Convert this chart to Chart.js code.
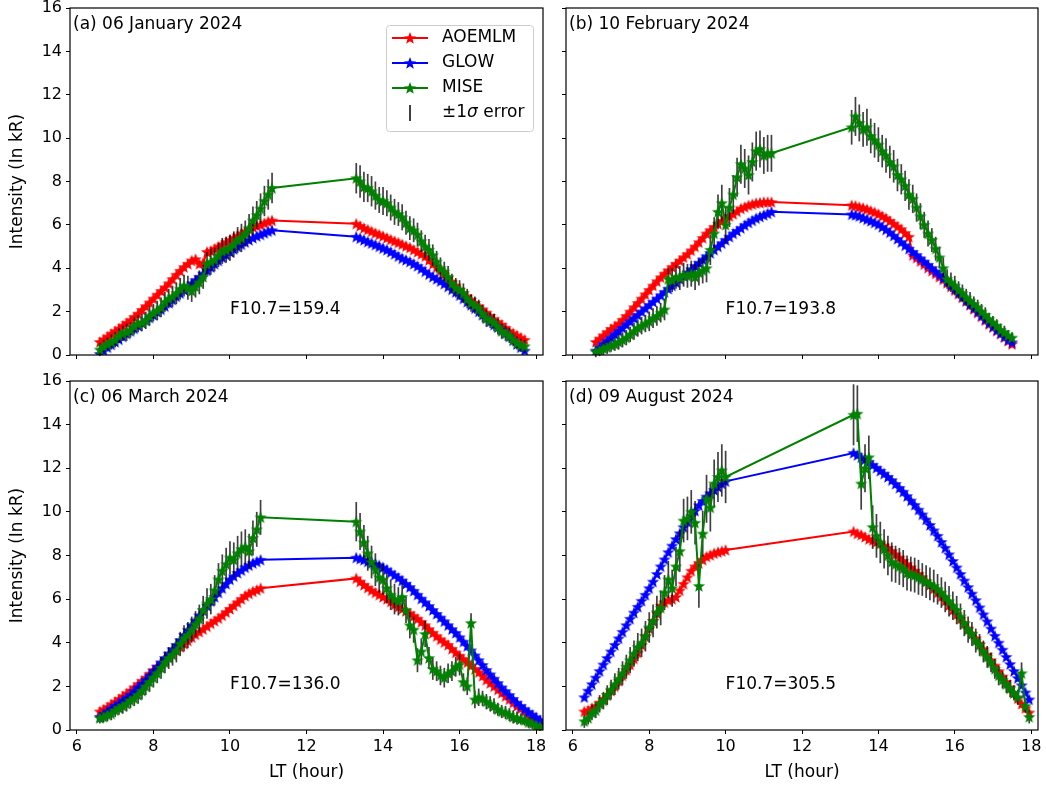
<!DOCTYPE html>
<html>
<head>
<meta charset="utf-8">
<script src="https://cdn.jsdelivr.net/npm/chart.js@4.4.1/dist/chart.umd.min.js"></script>
<style>
  body { margin: 0; background: #fff; }
  #wrap { position: relative; width: 1046px; height: 788px; }
  #wrap canvas { position: absolute; }
</style>
</head>
<body>
<div id="wrap">
  <canvas id="pa" width="556" height="370" style="left:0;top:0"></canvas>
  <canvas id="pb" width="490" height="370" style="left:556px;top:0"></canvas>
  <canvas id="pc" width="556" height="418" style="left:0;top:370px"></canvas>
  <canvas id="pd" width="490" height="418" style="left:556px;top:370px"></canvas>
</div>
<script>
const xTicks = [6, 8, 10, 12, 14, 16, 18];
const yTicks = [0, 2, 4, 6, 8, 10, 12, 14, 16];
const seriesNames = ['AOEMLM', 'GLOW', 'MISE'];
const seriesColors = ['#ff0000', '#0000ff', '#008000'];
const panelTitles = ['(a) 06 January 2024', '(b) 10 February 2024', '(c) 06 March 2024', '(d) 09 August 2024'];
const fluxLabels = ['F10.7=159.4', 'F10.7=193.8', 'F10.7=136.0', 'F10.7=305.5'];

// (a) 06 January 2024 - local time (hour) / intensity (kR)
const tA = [6.6, 6.7, 6.8, 6.9, 7.0, 7.1, 7.2, 7.3, 7.4, 7.5, 7.6, 7.7, 7.8, 7.9, 8.0, 8.1, 8.2, 8.3, 8.4, 8.5, 8.6, 8.7, 8.8, 8.9, 9.0, 9.1, 9.2, 9.3, 9.4, 9.5, 9.6, 9.7, 9.8, 9.9, 10.0, 10.1, 10.2, 10.3, 10.4, 10.5, 10.6, 10.7, 10.8, 10.9, 11.0, 11.1,
  13.3, 13.4, 13.5, 13.6, 13.7, 13.8, 13.9, 14.0, 14.1, 14.2, 14.3, 14.4, 14.5, 14.6, 14.7, 14.8, 14.9, 15.0, 15.1, 15.2, 15.3, 15.4, 15.5, 15.6, 15.7, 15.8, 15.9, 16.0, 16.1, 16.2, 16.3, 16.4, 16.5, 16.6, 16.7, 16.8, 16.9, 17.0, 17.1, 17.2, 17.3, 17.4, 17.5, 17.6, 17.7];
const aoemlmA = [0.6, 0.72, 0.85, 0.98, 1.1, 1.22, 1.35, 1.48, 1.6, 1.75, 1.9, 2.08, 2.25, 2.42, 2.6, 2.78, 2.95, 3.12, 3.3, 3.5, 3.7, 3.88, 4.05, 4.2, 4.35, 4.42, 4.2, 4.25, 4.75, 4.8, 4.9, 5.0, 5.1, 5.2, 5.3, 5.4, 5.5, 5.6, 5.7, 5.8, 5.9, 5.95, 6.0, 6.08, 6.15, 6.2,
  6.05, 5.95, 5.85, 5.78, 5.7, 5.62, 5.55, 5.48, 5.4, 5.32, 5.25, 5.18, 5.1, 5.02, 4.95, 4.85, 4.75, 4.65, 4.55, 4.38, 4.2, 4.05, 3.9, 3.72, 3.55, 3.38, 3.2, 3.02, 2.85, 2.7, 2.55, 2.4, 2.25, 2.1, 1.95, 1.8, 1.65, 1.52, 1.4, 1.25, 1.1, 1.0, 0.9, 0.8, 0.7];
const glowA = [0.05, 0.2, 0.35, 0.48, 0.6, 0.72, 0.85, 0.98, 1.1, 1.22, 1.35, 1.48, 1.6, 1.72, 1.85, 1.98, 2.1, 2.25, 2.4, 2.55, 2.7, 2.85, 3.0, 3.15, 3.3, 3.45, 3.6, 3.75, 3.9, 4.05, 4.2, 4.35, 4.5, 4.62, 4.75, 4.88, 5.0, 5.1, 5.2, 5.3, 5.4, 5.48, 5.55, 5.62, 5.7, 5.75,
  5.45, 5.38, 5.3, 5.22, 5.15, 5.08, 5.0, 4.92, 4.85, 4.75, 4.65, 4.55, 4.45, 4.38, 4.3, 4.2, 4.1, 3.98, 3.85, 3.72, 3.6, 3.5, 3.4, 3.28, 3.15, 3.02, 2.9, 2.75, 2.6, 2.45, 2.3, 2.15, 2.0, 1.85, 1.7, 1.55, 1.4, 1.28, 1.15, 1.0, 0.85, 0.68, 0.5, 0.35, 0.2];
const miseA = [0.25, 0.4, 0.5, 0.6, 0.7, 0.9, 1.0, 1.05, 1.15, 1.35, 1.45, 1.5, 1.6, 1.8, 1.95, 2.05, 2.2, 2.45, 2.6, 2.7, 2.85, 3.05, 3.2, 3.1, 2.95, 3.15, 3.35, 3.6, 4.2, 4.3, 4.4, 4.6, 4.8, 4.85, 4.95, 5.1, 5.3, 5.4, 5.6, 5.85, 6.2, 6.45, 6.75, 7.1, 7.4, 7.7,
  8.15, 8.0, 7.75, 7.7, 7.55, 7.35, 7.15, 7.1, 7.0, 6.8, 6.6, 6.5, 6.35, 6.1, 5.85, 5.75, 5.55, 5.25, 5.0, 4.85, 4.6, 4.3, 4.0, 3.85, 3.6, 3.3, 3.1, 3.0, 2.85, 2.6, 2.4, 2.3, 2.15, 1.9, 1.7, 1.6, 1.5, 1.3, 1.1, 1.0, 0.9, 0.7, 0.55, 0.45, 0.4];
const errA = [0.3, 0.3, 0.3, 0.35, 0.35, 0.35, 0.35, 0.4, 0.35, 0.4, 0.4, 0.4, 0.4, 0.45, 0.4, 0.45, 0.45, 0.45, 0.45, 0.5, 0.5, 0.5, 0.5, 0.55, 0.5, 0.5, 0.55, 0.55, 0.55, 0.6, 0.55, 0.55, 0.6, 0.6, 0.6, 0.6, 0.6, 0.65, 0.6, 0.65, 0.65, 0.65, 0.7, 0.7, 0.7, 0.7,
  0.7, 0.75, 0.7, 0.65, 0.7, 0.65, 0.6, 0.65, 0.6, 0.6, 0.6, 0.55, 0.6, 0.55, 0.55, 0.55, 0.55, 0.5, 0.55, 0.5, 0.5, 0.5, 0.5, 0.45, 0.5, 0.45, 0.45, 0.45, 0.45, 0.45, 0.4, 0.4, 0.4, 0.4, 0.4, 0.35, 0.4, 0.35, 0.35, 0.35, 0.35, 0.3, 0.3, 0.3, 0.3];

// (b) 10 February 2024
const tB = [6.6, 6.7, 6.8, 6.9, 7.0, 7.1, 7.2, 7.3, 7.4, 7.5, 7.6, 7.7, 7.8, 7.9, 8.0, 8.1, 8.2, 8.3, 8.4, 8.5, 8.6, 8.7, 8.8, 8.9, 9.0, 9.1, 9.2, 9.3, 9.4, 9.5, 9.6, 9.7, 9.8, 9.9, 10.0, 10.1, 10.2, 10.3, 10.4, 10.5, 10.6, 10.7, 10.8, 10.9, 11.0, 11.1, 11.2,
  13.3, 13.4, 13.5, 13.6, 13.7, 13.8, 13.9, 14.0, 14.1, 14.2, 14.3, 14.4, 14.5, 14.6, 14.7, 14.8, 14.9, 15.0, 15.1, 15.2, 15.3, 15.4, 15.5, 15.6, 15.7, 15.8, 15.9, 16.0, 16.1, 16.2, 16.3, 16.4, 16.5, 16.6, 16.7, 16.8, 16.9, 17.0, 17.1, 17.2, 17.3, 17.4, 17.5];
const aoemlmB = [0.6, 0.75, 0.9, 1.05, 1.2, 1.32, 1.45, 1.62, 1.8, 2.0, 2.2, 2.4, 2.6, 2.8, 3.0, 3.2, 3.4, 3.58, 3.75, 3.9, 4.05, 4.2, 4.35, 4.5, 4.65, 4.82, 5.0, 5.2, 5.4, 5.6, 5.75, 5.9, 6.05, 6.18, 6.3, 6.4, 6.5, 6.62, 6.75, 6.82, 6.9, 6.95, 7.0, 7.02, 7.05, 7.05, 7.05,
  6.9, 6.88, 6.82, 6.78, 6.72, 6.65, 6.58, 6.5, 6.4, 6.3, 6.18, 6.05, 5.92, 5.8, 5.62, 5.45, 4.6, 4.48, 4.32, 4.18, 4.02, 3.88, 3.75, 3.6, 3.48, 3.32, 3.15, 2.98, 2.82, 2.65, 2.48, 2.3, 2.12, 1.95, 1.78, 1.6, 1.42, 1.28, 1.12, 0.98, 0.82, 0.65, 0.5];
const glowB = [0.2, 0.35, 0.5, 0.65, 0.8, 0.95, 1.1, 1.25, 1.4, 1.55, 1.7, 1.85, 2.0, 2.15, 2.3, 2.45, 2.6, 2.75, 2.9, 3.05, 3.2, 3.35, 3.5, 3.65, 3.8, 3.95, 4.1, 4.25, 4.4, 4.55, 4.7, 4.85, 5.0, 5.15, 5.3, 5.45, 5.6, 5.72, 5.85, 5.98, 6.1, 6.2, 6.3, 6.38, 6.45, 6.52, 6.6,
  6.48, 6.45, 6.4, 6.32, 6.25, 6.18, 6.1, 6.02, 5.9, 5.78, 5.65, 5.5, 5.35, 5.2, 5.05, 4.9, 4.75, 4.6, 4.45, 4.3, 4.15, 4.0, 3.85, 3.7, 3.55, 3.4, 3.22, 3.05, 2.88, 2.7, 2.52, 2.35, 2.18, 2.0, 1.82, 1.65, 1.48, 1.32, 1.15, 1.0, 0.85, 0.7, 0.58];
const miseB = [0.15, 0.2, 0.3, 0.35, 0.45, 0.5, 0.6, 0.7, 0.8, 0.95, 1.1, 1.25, 1.35, 1.45, 1.55, 1.7, 1.8, 1.95, 2.1, 3.5, 3.45, 3.6, 3.55, 3.7, 3.65, 3.75, 3.6, 3.8, 3.9, 4.0, 4.85, 5.6, 6.6, 7.0, 6.0, 6.8, 7.4, 8.2, 8.8, 8.6, 8.3, 8.9, 9.4, 9.5, 9.2, 9.3, 9.3,
  10.5, 11.0, 10.7, 10.4, 10.5, 10.1, 9.9, 9.7, 9.4, 9.2, 8.9, 8.7, 8.3, 8.1, 7.8, 7.4, 7.2, 6.8, 6.4, 6.0, 5.6, 5.3, 4.9, 4.5, 4.0, 3.5, 3.35, 3.2, 3.0, 2.85, 2.65, 2.5, 2.35, 2.2, 2.0, 1.85, 1.65, 1.5, 1.35, 1.15, 1.05, 0.9, 0.8];
const errB = [0.25, 0.25, 0.3, 0.3, 0.3, 0.3, 0.35, 0.35, 0.35, 0.35, 0.4, 0.4, 0.4, 0.4, 0.45, 0.45, 0.45, 0.45, 0.5, 0.5, 0.55, 0.55, 0.55, 0.55, 0.55, 0.6, 0.6, 0.6, 0.6, 0.65, 0.7, 0.75, 0.8, 0.85, 0.85, 0.9, 0.9, 0.9, 0.9, 0.9, 0.9, 0.9, 0.9, 0.85, 0.85, 0.85, 0.85,
  0.8, 0.9, 0.85, 0.8, 0.85, 0.8, 0.8, 0.8, 0.75, 0.8, 0.75, 0.75, 0.75, 0.7, 0.7, 0.7, 0.65, 0.65, 0.6, 0.6, 0.6, 0.55, 0.55, 0.5, 0.5, 0.45, 0.45, 0.45, 0.4, 0.4, 0.4, 0.4, 0.35, 0.35, 0.35, 0.35, 0.3, 0.3, 0.3, 0.3, 0.3, 0.25, 0.25];

// (c) 06 March 2024
const tC = [6.6, 6.7, 6.8, 6.9, 7.0, 7.1, 7.2, 7.3, 7.4, 7.5, 7.6, 7.7, 7.8, 7.9, 8.0, 8.1, 8.2, 8.3, 8.4, 8.5, 8.6, 8.7, 8.8, 8.9, 9.0, 9.1, 9.2, 9.3, 9.4, 9.5, 9.6, 9.7, 9.8, 9.9, 10.0, 10.1, 10.2, 10.3, 10.4, 10.5, 10.6, 10.7, 10.8,
  13.3, 13.4, 13.5, 13.6, 13.7, 13.8, 13.9, 14.0, 14.1, 14.2, 14.3, 14.4, 14.5, 14.6, 14.7, 14.8, 14.9, 15.0, 15.1, 15.2, 15.3, 15.4, 15.5, 15.6, 15.7, 15.8, 15.9, 16.0, 16.1, 16.2, 16.3, 16.4, 16.5, 16.6, 16.7, 16.8, 16.9, 17.0, 17.1, 17.2, 17.3, 17.4, 17.5, 17.6, 17.7, 17.8, 17.9, 18.0, 18.1];
const aoemlmC = [0.85, 0.95, 1.05, 1.18, 1.3, 1.42, 1.55, 1.68, 1.8, 1.95, 2.1, 2.25, 2.4, 2.58, 2.75, 2.9, 3.05, 3.2, 3.35, 3.5, 3.65, 3.8, 3.95, 4.1, 4.25, 4.38, 4.5, 4.62, 4.75, 4.88, 5.0, 5.12, 5.25, 5.4, 5.55, 5.7, 5.85, 6.0, 6.15, 6.25, 6.35, 6.42, 6.5,
  6.95, 6.8, 6.65, 6.52, 6.4, 6.3, 6.2, 6.1, 6.0, 5.88, 5.75, 5.65, 5.55, 5.45, 5.35, 5.22, 5.1, 4.95, 4.8, 4.62, 4.45, 4.3, 4.15, 4.02, 3.9, 3.72, 3.55, 3.4, 3.25, 3.1, 2.95, 2.8, 2.65, 2.48, 2.3, 2.15, 2.0, 1.85, 1.7, 1.55, 1.4, 1.25, 1.1, 0.98, 0.85, 0.72, 0.6, 0.5, 0.4];
const glowC = [0.6, 0.72, 0.85, 0.98, 1.1, 1.22, 1.35, 1.48, 1.6, 1.78, 1.95, 2.12, 2.3, 2.5, 2.7, 2.9, 3.1, 3.3, 3.5, 3.7, 3.9, 4.12, 4.35, 4.58, 4.8, 5.02, 5.25, 5.48, 5.7, 5.9, 6.1, 6.3, 6.5, 6.7, 6.9, 7.05, 7.2, 7.32, 7.45, 7.55, 7.65, 7.72, 7.8,
  7.9, 7.85, 7.8, 7.72, 7.65, 7.6, 7.55, 7.45, 7.35, 7.22, 7.1, 6.98, 6.85, 6.7, 6.55, 6.38, 6.2, 6.02, 5.85, 5.68, 5.5, 5.32, 5.15, 4.98, 4.8, 4.62, 4.45, 4.25, 4.05, 3.85, 3.65, 3.42, 3.2, 2.98, 2.75, 2.55, 2.35, 2.15, 1.95, 1.78, 1.6, 1.42, 1.25, 1.1, 0.95, 0.82, 0.7, 0.58, 0.45];
const miseC = [0.55, 0.6, 0.7, 0.75, 0.9, 1.0, 1.1, 1.2, 1.35, 1.45, 1.6, 1.8, 2.0, 2.2, 2.4, 2.6, 2.85, 3.1, 3.3, 3.45, 3.65, 3.95, 4.2, 4.35, 4.6, 4.85, 5.1, 5.5, 5.8, 6.0, 6.4, 6.9, 7.3, 7.6, 7.9, 7.8, 8.1, 8.3, 8.4, 8.2, 8.8, 9.2, 9.75,
  9.55, 9.1, 8.6, 8.1, 7.7, 7.35, 7.0, 6.9, 6.5, 6.2, 6.0, 5.9, 6.1, 5.5, 4.8, 4.6, 3.2, 3.6, 4.4, 3.3, 2.8, 2.7, 2.5, 2.4, 2.6, 2.7, 2.9, 3.0, 2.2, 2.0, 4.9, 1.4, 1.5, 1.45, 1.3, 1.2, 1.1, 0.95, 0.85, 0.8, 0.7, 0.6, 0.55, 0.5, 0.45, 0.35, 0.3, 0.2, 0.15];
const errC = [0.25, 0.25, 0.3, 0.3, 0.3, 0.3, 0.35, 0.35, 0.35, 0.35, 0.4, 0.4, 0.4, 0.45, 0.45, 0.45, 0.5, 0.5, 0.5, 0.5, 0.55, 0.55, 0.6, 0.6, 0.6, 0.6, 0.65, 0.65, 0.7, 0.7, 0.7, 0.75, 0.75, 0.75, 0.75, 0.8, 0.8, 0.8, 0.8, 0.8, 0.8, 0.8, 0.8,
  0.9, 0.85, 0.8, 0.8, 0.75, 0.75, 0.7, 0.7, 0.7, 0.7, 0.7, 0.65, 0.65, 0.6, 0.6, 0.6, 0.55, 0.6, 0.6, 0.5, 0.5, 0.45, 0.45, 0.45, 0.45, 0.45, 0.45, 0.5, 0.4, 0.4, 0.45, 0.4, 0.4, 0.35, 0.35, 0.35, 0.35, 0.3, 0.3, 0.3, 0.3, 0.3, 0.3, 0.25, 0.25, 0.25, 0.25, 0.2, 0.2];

// (d) 09 August 2024
const tD = [6.3, 6.4, 6.5, 6.6, 6.7, 6.8, 6.9, 7.0, 7.1, 7.2, 7.3, 7.4, 7.5, 7.6, 7.7, 7.8, 7.9, 8.0, 8.1, 8.2, 8.3, 8.4, 8.5, 8.6, 8.7, 8.8, 8.9, 9.0, 9.1, 9.2, 9.3, 9.4, 9.5, 9.6, 9.7, 9.8, 9.9, 10.0,
  13.35, 13.45, 13.55, 13.65, 13.75, 13.85, 13.95, 14.05, 14.15, 14.25, 14.35, 14.45, 14.55, 14.65, 14.75, 14.85, 14.95, 15.05, 15.15, 15.25, 15.35, 15.45, 15.55, 15.65, 15.75, 15.85, 15.95, 16.05, 16.15, 16.25, 16.35, 16.45, 16.55, 16.65, 16.75, 16.85, 16.95, 17.05, 17.15, 17.25, 17.35, 17.45, 17.55, 17.65, 17.75, 17.85, 17.95];
const aoemlmD = [0.85, 0.9, 1.0, 1.1, 1.25, 1.42, 1.6, 1.8, 2.0, 2.25, 2.5, 2.75, 3.0, 3.28, 3.55, 3.9, 4.3, 4.65, 5.0, 5.35, 5.7, 5.85, 5.95, 6.0, 6.1, 6.4, 6.7, 7.0, 7.3, 7.5, 7.65, 7.8, 7.95, 8.02, 8.1, 8.15, 8.2, 8.25,
  9.1, 9.0, 8.95, 8.85, 8.75, 8.7, 8.62, 8.55, 8.45, 8.35, 8.2, 8.05, 7.9, 7.75, 7.6, 7.45, 7.3, 7.15, 7.0, 6.82, 6.65, 6.48, 6.3, 6.12, 5.92, 5.72, 5.5, 5.3, 5.1, 4.88, 4.65, 4.42, 4.2, 3.95, 3.7, 3.45, 3.2, 2.95, 2.7, 2.45, 2.2, 1.95, 1.7, 1.45, 1.2, 1.0, 0.8];
const glowD = [1.5, 1.8, 2.1, 2.4, 2.7, 3.0, 3.3, 3.6, 3.9, 4.2, 4.5, 4.8, 5.1, 5.38, 5.65, 5.92, 6.2, 6.5, 6.8, 7.15, 7.5, 7.82, 8.15, 8.45, 8.75, 9.02, 9.3, 9.55, 9.8, 10.05, 10.3, 10.5, 10.7, 10.85, 11.0, 11.15, 11.3, 11.4,
  12.7, 12.6, 12.5, 12.4, 12.28, 12.15, 12.02, 11.88, 11.75, 11.6, 11.45, 11.28, 11.1, 10.92, 10.72, 10.52, 10.32, 10.1, 9.88, 9.65, 9.4, 9.15, 8.9, 8.62, 8.35, 8.05, 7.75, 7.45, 7.15, 6.85, 6.55, 6.25, 5.95, 5.62, 5.3, 4.98, 4.65, 4.32, 4.0, 3.68, 3.35, 3.02, 2.7, 2.38, 2.05, 1.72, 1.4];
const miseD = [0.4, 0.55, 0.8, 0.9, 1.2, 1.35, 1.6, 1.85, 2.1, 2.35, 2.6, 2.9, 3.2, 3.5, 3.8, 4.0, 4.3, 4.7, 5.0, 5.4, 5.6, 6.3, 6.9, 6.5, 7.5, 8.2, 9.6, 9.7, 10.0, 9.5, 6.6, 9.0, 10.6, 10.2, 11.3, 11.6, 11.9, 11.6,
  14.45, 14.5, 11.3, 12.0, 12.5, 9.3, 8.9, 8.6, 8.3, 8.0, 7.7, 7.6, 7.5, 7.4, 7.2, 7.15, 7.1, 7.0, 6.9, 6.8, 6.7, 6.6, 6.45, 6.3, 6.1, 5.9, 5.7, 5.5, 5.2, 4.9, 4.6, 4.4, 4.1, 3.9, 3.6, 3.35, 3.1, 2.8, 2.5, 2.3, 2.1, 1.9, 1.7, 1.5, 2.6, 1.1, 0.6];
const errD = [0.3, 0.3, 0.35, 0.35, 0.4, 0.4, 0.45, 0.45, 0.5, 0.5, 0.55, 0.55, 0.6, 0.6, 0.65, 0.65, 0.7, 0.7, 0.75, 0.75, 0.8, 0.8, 0.85, 0.85, 0.9, 0.95, 1.0, 1.0, 1.0, 1.0, 1.0, 1.05, 1.1, 1.1, 1.1, 1.15, 1.2, 1.2,
  1.4, 1.3, 1.2, 1.1, 1.0, 1.0, 1.0, 0.95, 0.9, 0.9, 0.9, 0.85, 0.85, 0.85, 0.8, 0.8, 0.8, 0.8, 0.75, 0.75, 0.75, 0.75, 0.7, 0.7, 0.7, 0.7, 0.65, 0.65, 0.6, 0.6, 0.6, 0.55, 0.55, 0.5, 0.5, 0.5, 0.45, 0.45, 0.45, 0.4, 0.4, 0.4, 0.35, 0.35, 0.5, 0.3, 0.3];

const FONT = '"DejaVu Sans", sans-serif';
const fluxAt = [10.0, 1.9]; // where the F10.7 note sits, in data units

// filled five-point star, like matplotlib's '*' marker
function starImg(color) {
  const c = document.createElement('canvas');
  c.width = 14; c.height = 14;
  const g = c.getContext('2d');
  g.fillStyle = color;
  g.beginPath();
  for (let i = 0; i < 10; i++) {
    const r = i % 2 ? 2.7 : 6.4;
    const ang = -Math.PI / 2 + i * Math.PI / 5;
    g.lineTo(7 + r * Math.cos(ang), 7.5 + r * Math.sin(ang));
  }
  g.closePath();
  g.fill();
  return c;
}
const stars = seriesColors.map(starImg);

function drawLegend(ctx) {
  const L = 386, T = 25, W = 147, H = 106;
  ctx.save();
  ctx.beginPath();
  ctx.roundRect(L + 0.5, T + 0.5, W, H, 3);
  ctx.fillStyle = 'rgba(255,255,255,0.85)';
  ctx.fill();
  ctx.strokeStyle = '#cccccc';
  ctx.lineWidth = 1;
  ctx.stroke();
  ctx.font = '17px ' + FONT;
  ctx.textBaseline = 'middle';
  ctx.fillStyle = '#000';
  seriesNames.forEach((name, k) => {
    const yy = T + 13 + k * 25;
    ctx.strokeStyle = seriesColors[k];
    ctx.lineWidth = 2;
    ctx.beginPath(); ctx.moveTo(L + 6, yy); ctx.lineTo(L + 42, yy); ctx.stroke();
    ctx.drawImage(stars[k], L + 24 - 7, yy - 7);
    ctx.fillText(name, L + 56, yy);
  });
  const ye = T + 88;
  ctx.strokeStyle = '#000';
  ctx.lineWidth = 1.5;
  ctx.beginPath(); ctx.moveTo(L + 24, ye - 8); ctx.lineTo(L + 24, ye + 8); ctx.stroke();
  let xx = L + 56;
  ctx.fillText('\u00b11', xx, ye);
  xx += ctx.measureText('\u00b11').width;
  ctx.font = 'italic 17px ' + FONT;
  ctx.fillText('\u03c3', xx, ye);
  xx += ctx.measureText('\u03c3').width;
  ctx.font = '17px ' + FONT;
  ctx.fillText(' error', xx, ye);
  ctx.restore();
}

const decoPlugin = {
  id: 'deco',
  beforeDatasetDraw(chart, args, o) {
    // black ±1 sigma bars: over the model curves, under the MISE line
    if (args.index !== 2) return;
    const ctx = chart.ctx, xs = chart.scales.x, ys = chart.scales.y;
    ctx.save();
    ctx.strokeStyle = 'rgba(0,0,0,0.75)';
    ctx.lineWidth = 1.7;
    o.t.forEach((t, i) => {
      const px = xs.getPixelForValue(t);
      ctx.beginPath();
      ctx.moveTo(px, ys.getPixelForValue(o.v[i] - o.e[i]));
      ctx.lineTo(px, ys.getPixelForValue(o.v[i] + o.e[i]));
      ctx.stroke();
    });
    ctx.restore();
  },
  afterDraw(chart, args, o) {
    const ctx = chart.ctx, a = chart.chartArea, xs = chart.scales.x, ys = chart.scales.y;
    ctx.save();
    ctx.strokeStyle = '#000';
    ctx.lineWidth = 1.2;
    ctx.strokeRect(a.left, a.top, a.right - a.left, a.bottom - a.top);
    ctx.fillStyle = '#000';
    ctx.font = '17px ' + FONT;
    ctx.textAlign = 'left';
    ctx.textBaseline = 'alphabetic';
    ctx.fillText(o.title, a.left + 3, a.top + 21);
    ctx.fillText(o.flux, xs.getPixelForValue(fluxAt[0]), ys.getPixelForValue(fluxAt[1]));
    if (o.yTitle) {
      ctx.save();
      ctx.translate(18, (a.top + a.bottom) / 2);
      ctx.rotate(-Math.PI / 2);
      ctx.textAlign = 'center';
      ctx.textBaseline = 'middle';
      ctx.fillText('Intensity (In kR)', 0, 0);
      ctx.restore();
    }
    if (o.xTitle) {
      ctx.textAlign = 'center';
      ctx.textBaseline = 'middle';
      ctx.fillText('LT (hour)', (a.left + a.right) / 2, a.bottom + 43);
    }
    if (o.legend) drawLegend(ctx);
    ctx.restore();
  }
};

function makePanel(id, k, t, red, blue, green, err, cfg) {
  const datasets = [red, blue, green].map((vals, s) => ({
    label: seriesNames[s],
    data: t.map((tt, i) => ({ x: tt, y: vals[i] })),
    borderColor: seriesColors[s],
    backgroundColor: seriesColors[s],
    borderWidth: 2,
    pointStyle: stars[s],
    pointRadius: 6,
    tension: 0,
    order: 3 - s
  }));
  new Chart(document.getElementById(id), {
    type: 'line',
    data: { datasets },
    options: {
      responsive: false,
      animation: false,
      devicePixelRatio: 1,
      events: [],
      layout: { padding: cfg.pad },
      plugins: {
        legend: { display: false },
        tooltip: { enabled: false },
        deco: { t, v: green, e: err, title: panelTitles[k], flux: fluxLabels[k],
                yTitle: cfg.yLabels, xTitle: cfg.xLabels, legend: k === 0 }
      },
      scales: {
        x: {
          type: 'linear', min: 5.82, max: 18.18,
          afterBuildTicks: s => { s.ticks = xTicks.map(v => ({ value: v })); },
          afterFit: s => { s.height = cfg.xh; s.paddingLeft = 0; s.paddingRight = 0; },
          grid: { drawOnChartArea: false, drawTicks: true, tickLength: 4, color: '#000' },
          border: { display: false },
          ticks: { display: cfg.xLabels, font: { family: FONT, size: 16 }, color: '#000', padding: 3, maxRotation: 0, autoSkip: false }
        },
        y: {
          type: 'linear', min: 0, max: 16,
          afterBuildTicks: s => { s.ticks = yTicks.map(v => ({ value: v })); },
          afterFit: s => { s.width = cfg.yw; s.paddingTop = 0; s.paddingBottom = 0; },
          grid: { drawOnChartArea: false, drawTicks: true, tickLength: 4, color: '#000' },
          border: { display: false },
          ticks: { display: cfg.yLabels, font: { family: FONT, size: 16 }, color: '#000', padding: 4, autoSkip: false }
        }
      }
    },
    plugins: [decoPlugin]
  });
}

makePanel('pa', 0, tA, aoemlmA, glowA, miseA, errA,
  { pad: { left: 10, top: 7, right: 13, bottom: 5 }, yw: 60, xh: 10, xLabels: false, yLabels: true });
makePanel('pb', 1, tB, aoemlmB, glowB, miseB, errB,
  { pad: { left: 4, top: 7, right: 8, bottom: 5 }, yw: 6, xh: 10, xLabels: false, yLabels: false });
makePanel('pc', 2, tC, aoemlmC, glowC, miseC, errC,
  { pad: { left: 10, top: 11, right: 13, bottom: 18 }, yw: 60, xh: 40, xLabels: true, yLabels: true });
makePanel('pd', 3, tD, aoemlmD, glowD, miseD, errD,
  { pad: { left: 4, top: 11, right: 8, bottom: 18 }, yw: 6, xh: 40, xLabels: true, yLabels: false });
</script>
</body>
</html>
